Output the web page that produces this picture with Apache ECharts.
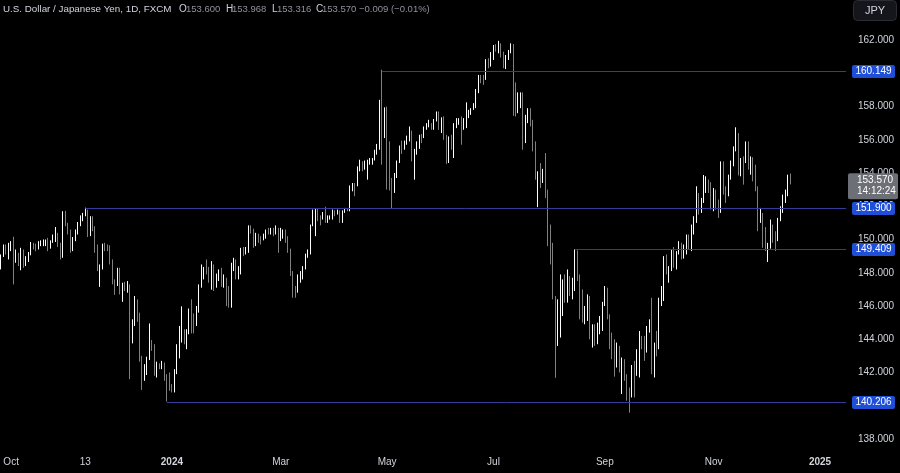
<!DOCTYPE html>
<html><head><meta charset="utf-8">
<script src="https://cdn.jsdelivr.net/npm/echarts/dist/echarts.min.js"></script>
<style>html,body{margin:0;padding:0;background:#000}#c{width:900px;height:473px}</style>
</head><body><div id="c"></div><script>
// ---- data: daily candles [open, close, low, high] ----
const startDate = '2023-09-26';
const slotCount = 342;
const sep23 = [[148.40,149.00,148.20,149.10],[149.00,149.62,148.95,149.70],[149.62,149.31,149.10,149.70],[149.31,149.35,148.80,149.80]];
const oct23 = [[149.35,149.87,149.30,149.90],[149.87,149.02,147.30,150.16],[149.02,149.13,148.60,149.40],[149.13,148.50,148.40,149.20],[148.50,149.32,148.15,149.50],
 [149.32,148.52,148.30,149.40],[148.52,148.72,148.40,149.00],[148.72,149.13,148.65,149.25],[149.13,149.80,149.05,149.85],[149.80,149.56,149.40,149.80],
 [149.56,149.54,149.30,149.75],[149.54,149.80,149.40,149.90],[149.80,149.84,149.60,149.95],[149.84,149.85,149.60,150.00],[149.85,149.86,149.60,150.00],
 [149.86,149.69,149.30,150.10],[149.69,149.90,149.45,149.95],[149.90,150.20,149.80,150.30],[150.20,150.35,149.85,150.75],[150.35,149.65,149.55,150.40],
 [149.65,149.12,148.80,149.80],[149.12,151.68,148.90,151.70]];
const nov23 = [[151.68,150.95,150.80,151.72],[150.95,150.43,150.30,151.00],[150.43,149.38,149.20,150.60],[149.38,150.06,149.30,150.15],[150.06,150.40,149.90,150.60],
 [150.40,150.97,150.30,151.05],[150.97,151.36,150.80,151.45],[151.36,151.51,151.10,151.60],[151.51,151.71,151.40,151.91],[151.71,150.37,150.15,151.80],
 [150.37,151.33,150.20,151.40],[151.33,150.71,150.50,151.40],[150.71,149.62,149.20,150.80],[149.62,148.35,148.10,149.70],[148.35,148.38,147.15,148.50],
 [148.38,149.55,148.20,149.75],[149.55,149.53,149.30,149.80],[149.53,149.44,149.30,149.70],[149.44,148.70,148.50,149.65],[148.70,147.45,147.30,148.80],
 [147.45,147.24,146.67,147.60],[147.24,148.19,147.20,148.30]];
const dec23 = [[148.19,146.80,146.70,148.30],[146.80,147.21,146.25,147.40],[147.21,147.14,146.90,147.45],[147.14,147.27,146.80,147.50],[147.27,144.11,141.60,147.30],
 [144.11,144.95,143.75,145.20],[144.95,146.19,144.80,146.60],[146.19,145.45,145.05,146.40],[145.45,142.88,142.65,145.60],[142.88,141.90,140.95,143.00],
 [141.90,142.17,141.50,142.50],[142.17,142.85,141.85,142.95],[142.85,143.80,142.75,144.95],[143.80,143.55,143.30,143.95],[143.55,142.13,141.80,143.70],
 [142.13,142.40,141.70,142.65],[142.40,142.37,142.20,142.55],[142.37,142.42,142.20,142.70],[142.42,141.80,141.50,142.60],[141.80,141.40,140.25,141.90],
 [141.40,141.03,140.90,142.00]];
const jan24 = [[141.03,141.00,140.80,141.30],[141.00,141.98,140.80,142.20],[141.98,143.29,141.90,143.70],[143.29,144.62,142.85,144.80],[144.62,144.63,143.80,145.98],
 [144.63,144.24,143.70,144.60],[144.24,144.47,143.40,144.60],[144.47,145.74,144.30,145.85],[145.74,145.29,144.35,146.40],[145.29,144.90,144.35,145.55],
 [144.90,145.75,144.80,146.00],[145.75,147.19,145.60,147.30],[147.19,148.14,147.10,148.50],[148.14,148.15,147.60,148.35],[148.15,148.13,147.90,148.80],
 [148.13,148.11,147.40,148.35],[148.11,148.38,146.98,148.70],[148.38,147.52,146.90,148.50],[147.52,147.64,147.10,147.95],[147.64,148.13,147.50,148.20],
 [148.13,147.51,147.15,148.30],[147.51,147.57,147.10,147.90],[147.57,146.92,146.00,147.70]];
const feb24 = [[146.92,146.43,145.90,147.20],[146.43,148.38,145.90,148.60],[148.38,148.69,148.10,148.90],[148.69,147.94,147.60,148.80],[147.94,148.04,147.60,148.40],
 [148.04,149.31,147.90,149.50],[149.31,149.28,149.00,149.55],[149.28,149.35,149.10,149.55],[149.35,150.59,149.20,150.85],[150.59,150.57,150.35,150.85],
 [150.57,149.94,149.50,150.65],[149.94,150.21,149.60,150.40],[150.21,150.09,149.80,150.35],[150.09,150.02,149.70,150.20],[150.02,150.30,149.95,150.35],
 [150.30,150.51,150.05,150.60],[150.51,150.50,150.30,150.70],[150.50,150.68,150.30,150.70],[150.68,150.49,150.20,150.70],[150.49,150.66,150.30,150.85],
 [150.66,149.98,149.20,150.70]];
const mar24 = [[149.98,150.11,149.90,150.70],[150.11,150.52,150.05,150.60],[150.52,150.04,149.80,150.60],[150.04,149.40,149.20,150.20],[149.40,148.05,147.80,149.45],
 [148.05,147.06,146.50,148.10],[147.06,146.94,146.50,147.20],[146.94,147.69,146.80,147.90],[147.69,147.76,147.40,148.10],[147.76,148.33,147.60,148.40],
 [148.33,149.04,148.20,149.15],[149.04,149.15,148.90,149.40],[149.15,150.87,149.10,150.90],[150.87,151.24,150.80,151.80],[151.24,151.62,150.20,151.85],
 [151.62,151.43,151.10,151.85],[151.43,151.28,150.85,151.45],[151.28,151.55,151.20,151.65],[151.55,151.34,151.00,151.97],[151.34,151.35,151.00,151.45],
 [151.35,151.35,151.20,151.45]];
const apr24 = [[151.35,151.66,151.20,151.80],[151.66,151.56,151.40,151.75],[151.56,151.68,151.50,151.80],[151.68,151.36,151.00,151.75],[151.36,151.62,151.00,151.75],
 [151.62,151.86,151.60,151.90],[151.86,151.78,151.70,151.90],[151.78,153.17,151.70,153.25],[153.17,153.30,152.90,153.40],[153.30,153.26,152.60,153.40],
 [153.26,154.22,153.20,154.40],[154.22,154.64,154.10,154.80],[154.64,154.37,154.10,154.70],[154.37,154.62,154.20,154.75],[154.62,154.63,153.60,154.80],
 [154.63,154.80,154.50,154.90],[154.80,154.82,154.50,154.90],[154.82,155.30,154.75,155.40],[155.30,155.60,155.10,155.75],[155.60,158.31,155.40,158.40],
 [158.31,156.38,154.50,160.21],[156.38,157.80,156.10,157.95]];
const may24 = [[157.80,155.00,153.00,157.99],[155.00,153.00,152.95,155.90],[153.00,152.98,151.86,153.70],[152.98,153.90,152.80,154.00],[153.90,154.65,153.70,154.75],
 [154.65,155.60,154.60,155.65],[155.60,155.47,155.15,155.95],[155.47,155.78,155.40,155.95],[155.78,156.22,155.70,156.25],[156.22,156.45,155.90,156.80],
 [156.45,154.90,154.70,156.55],[154.90,155.37,153.60,155.45],[155.37,155.68,155.10,155.90],[155.68,156.24,155.45,156.30],[156.24,156.17,155.80,156.35],
 [156.17,156.77,156.10,156.80],[156.77,156.95,156.60,157.00],[156.95,156.99,156.75,157.20],[156.99,156.85,156.60,157.00],[156.85,157.17,156.60,157.25],
 [157.17,157.63,157.10,157.70],[157.63,156.84,156.60,157.70],[156.84,157.30,156.40,157.35]];
const jun24 = [[157.30,156.10,156.00,157.40],[156.10,154.82,154.55,156.30],[154.82,156.09,154.60,156.20],[156.09,155.62,155.40,156.30],[155.62,156.75,154.90,157.00],
 [156.75,157.05,156.70,157.30],[157.05,157.13,156.90,157.30],[157.13,156.67,155.70,157.40],[156.67,157.07,156.60,157.30],[157.07,157.40,156.70,158.25],
 [157.40,157.73,157.30,157.80],[157.73,157.86,157.50,157.90],[157.86,158.09,157.80,158.20],[158.09,158.94,157.90,159.05],[158.94,159.78,158.80,159.90],
 [159.78,159.71,159.40,159.90],[159.71,159.70,159.30,159.90],[159.70,160.80,159.60,160.85],[160.80,160.76,160.30,160.90],[160.76,160.88,160.40,161.27]];
const jul24 = [[160.88,161.46,160.80,161.70],[161.46,161.45,161.30,161.75],[161.45,161.72,161.20,161.95],[161.72,161.21,160.95,161.80],[161.21,160.75,160.30,161.30],
 [160.75,160.82,160.25,161.10],[160.82,161.32,160.80,161.40],[161.32,161.60,161.20,161.80],[161.60,158.91,157.44,161.76],[158.91,157.87,157.40,159.45],
 [157.87,158.05,157.60,158.85],[158.05,158.35,157.90,158.85],[158.35,156.20,155.40,158.85],[156.20,157.36,155.80,157.50],[157.36,157.48,157.00,157.90],
 [157.48,156.95,156.80,157.90],[156.95,155.58,155.30,157.20],[155.58,153.88,153.60,155.90],[153.88,153.92,151.95,154.10],[153.92,153.75,153.10,154.60],
 [153.75,153.96,153.40,154.25],[153.96,152.73,152.50,155.20],[152.73,149.98,149.60,153.00]];
const aug24 = [[149.98,149.37,148.50,150.90],[149.37,146.52,146.40,149.80],[146.52,144.20,141.68,146.60],[144.20,144.30,143.60,146.40],[144.30,146.80,144.10,147.90],
 [146.80,147.25,145.40,147.60],[147.25,146.60,146.20,147.90],[146.60,147.23,146.20,148.20],[147.23,146.85,146.60,147.80],[146.85,147.35,146.40,147.70],
 [147.35,149.30,146.90,149.40],[149.30,147.60,147.50,149.35],[147.60,146.55,145.20,147.90],[146.55,145.25,145.00,147.00],[145.25,145.28,144.90,146.00],
 [145.28,146.25,145.10,146.70],[146.25,144.35,144.00,146.60],[144.35,144.57,143.50,144.90],[144.57,143.95,143.60,144.90],[143.95,144.61,143.70,145.00],
 [144.61,144.95,144.30,145.40],[144.95,146.17,144.50,146.25]];
const sep24 = [[146.17,146.94,146.00,147.20],[146.94,145.42,145.20,147.10],[145.42,143.73,143.40,145.50],[143.73,143.43,142.80,144.40],[143.43,142.30,141.75,144.00],
 [142.30,143.16,142.30,143.80],[143.16,142.40,142.00,143.60],[142.40,142.45,140.71,142.90],[142.45,141.84,141.50,142.80],[141.84,140.85,140.30,141.90],
 [140.85,140.64,139.58,141.10],[140.64,142.33,140.50,142.45],[142.33,142.28,140.50,142.70],[142.28,142.62,141.80,143.40],[142.62,143.86,141.70,144.50],
 [143.86,143.61,143.40,144.20],[143.61,143.22,142.70,144.20],[143.22,144.78,143.20,144.80],[144.78,144.81,144.40,145.20],[144.81,142.20,141.90,146.49],
 [142.20,143.62,141.70,143.80]];
const oct24 = [[143.62,143.55,142.97,144.50],[143.55,146.45,143.40,146.50],[146.45,146.97,146.00,147.20],[146.97,148.70,146.30,149.00],[148.70,148.18,147.90,149.10],
 [148.18,148.21,147.40,148.40],[148.21,149.30,148.10,149.40],[149.30,148.57,148.30,149.55],[148.57,149.14,148.20,149.30],[149.14,149.76,149.10,149.90],
 [149.76,149.20,148.80,149.80],[149.20,149.63,148.85,149.70],[149.63,150.08,149.10,150.30],[150.08,149.52,149.40,150.30],[149.52,150.87,149.30,150.90],
 [150.87,151.12,150.30,151.40],[151.12,152.74,151.00,153.20],[152.74,151.83,151.50,152.80],[151.83,152.32,151.60,152.50],[152.32,153.31,152.20,153.88],
 [153.31,153.40,152.80,153.80],[153.40,153.38,152.80,153.60],[153.38,152.05,151.80,153.45]];
const nov24 = [[152.05,152.99,151.70,153.10],[152.99,152.23,151.80,153.00],[152.23,151.62,151.30,152.40],[151.62,154.63,151.60,154.70],[154.63,152.97,152.70,154.70],
 [152.97,152.63,152.20,153.20],[152.63,153.72,152.60,153.90],[153.72,154.62,153.60,154.75],[154.62,155.45,154.40,155.60],[155.45,156.28,155.30,156.75],
 [156.28,154.29,153.85,156.40],[154.29,154.66,153.80,154.90],[154.66,154.63,153.30,155.00],[154.63,155.44,154.60,155.90],[155.44,154.52,154.20,155.90],
 [154.52,154.76,153.90,155.00],[154.76,154.23,153.50,154.95],[154.23,153.07,152.90,154.50],[153.07,151.08,150.50,153.20],[151.08,151.53,151.00,151.90],
 [151.53,149.77,149.50,151.60]];
const dec24 = [[149.77,149.58,149.30,150.75],[149.58,149.60,148.65,149.80],[149.60,150.59,149.45,151.20],[150.59,150.06,149.80,150.90],[150.06,149.98,149.30,150.50],
 [149.98,151.21,149.90,151.30],[151.21,151.96,151.10,152.00],[151.96,152.44,151.60,152.70],[152.44,152.65,152.20,153.00],[152.65,153.65,152.60,153.90],
 [153.600,153.570,153.316,153.968]];

// horizontal levels (start date, price)
const levelStarts = ['2024-04-29','2023-11-13','2024-08-15','2023-12-28'];
const levelValues = [160.149, 151.900, 149.409, 140.206];

// time axis tick labels
const xTickDates  = ['2023-10-02','2023-11-13','2024-01-01','2024-03-01','2024-05-01','2024-07-01','2024-09-02','2024-11-01','2025-01-01'];
const xTickTexts  = ['Oct','13','2024','Mar','May','Jul','Sep','Nov','2025'];

// header
const symbolTitle = 'U.S. Dollar / Japanese Yen, 1D, FXCM';
const ohlcLetters = ['O','H','L','C'];
const ohlcValues  = ['153.600','153.968','153.316','153.570'];
const changeText  = '\u22120.009 (\u22120.01%)';
const countdown   = '14:12:24';

// ---- build ----
const candles = [].concat(sep23,oct23,nov23,dec23,jan24,feb24,mar24,apr24,may24,jun24,jul24,aug24,sep24,oct24,nov24,dec24);
function weekdays(start, n){
  const out=[]; let t=Date.parse(start+'T00:00:00Z');
  while(out.length<n){ const d=new Date(t); const wd=d.getUTCDay(); if(wd!==0&&wd!==6) out.push(d.toISOString().slice(0,10)); t+=86400000; }
  return out;
}
const cats = weekdays(startDate, slotCount);
const tickMap = {}; xTickDates.forEach((d,i)=>tickMap[d]=xTickTexts[i]);

const LINE_COLOR = '#343b9a';
const chart = echarts.init(document.getElementById('c'), null, {renderer:'canvas'});
const FONT = 'Liberation Sans, Arial, sans-serif';
const option = {
  backgroundColor:'#000000',
  animation:false,
  textStyle:{fontFamily:FONT},
  grid:{left:0,right:54,top:40,bottom:34,containLabel:false},
  xAxis:{type:'category',data:cats,boundaryGap:true,
    axisLine:{show:false},axisTick:{show:false},splitLine:{show:false},
    axisLabel:{interval:(i,v)=>Object.prototype.hasOwnProperty.call(tickMap,v),
      formatter:v=>{const t=tickMap[v]||''; return /^\d{4}$/.test(t)?'{b|'+t+'}':t;},
      color:'#d1d4dc',fontSize:10,fontFamily:FONT,margin:18,hideOverlap:false,
      rich:{b:{fontWeight:'bold',color:'#d1d4dc',fontSize:10,fontFamily:FONT}}}},
  yAxis:{type:'value',position:'right',min:138,max:162,interval:2,scale:true,
    axisLine:{show:false},axisTick:{show:false},splitLine:{show:false},
    axisLabel:{color:'#d1d4dc',fontSize:10,fontFamily:FONT,margin:12,formatter:v=>v.toFixed(3)}},
  series:[{
    type:'candlestick',data:candles,barWidth:1,
    itemStyle:{color:'#ffffff',color0:'#808080',borderColor:'#ffffff',borderColor0:'#808080',borderWidth:1}
  }]
};
chart.setOption(option);

// overlays positioned through the chart's own scales
const g = [];
const gridRight = chart.convertToPixel({xAxisIndex:0}, cats[cats.length-1]) + 1.3;
levelValues.forEach((v,i)=>{
  const y = Math.round(chart.convertToPixel({yAxisIndex:0}, v)) + 0.5;
  const x0 = chart.convertToPixel({xAxisIndex:0}, levelStarts[i]);
  g.push({type:'line',shape:{x1:x0,y1:y,x2:gridRight,y2:y},style:{stroke:LINE_COLOR,lineWidth:1},z:50,silent:true});
  g.push({type:'rect',shape:{x:852,y:y-6.5,width:43,height:13,r:2},style:{fill:'#1f4fd6'},z:100,silent:true});
  g.push({type:'text',x:873.5,y:y,style:{text:v.toFixed(3),fill:'#ffffff',font:'10px '+FONT,align:'center',verticalAlign:'middle'},z:101,silent:true});
});
g.push({type:'text',left:3,top:4,style:{text:symbolTitle,fill:'#d1d4dc',font:'9.8px '+FONT}});
const letterX=[179,226,272,316], valueX=[186,232,277,322];
ohlcLetters.forEach((l,i)=>{
  g.push({type:'text',x:letterX[i],y:4,style:{text:l,fill:'#d1d4dc',font:'10px '+FONT}});
  g.push({type:'text',x:valueX[i],y:4.5,style:{text:ohlcValues[i],fill:'#8f929a',font:'9.5px '+FONT}});
});
g.push({type:'text',x:359,y:4.5,style:{text:changeText,fill:'#8f929a',font:'9.5px '+FONT}});
g.push({type:'rect',shape:{x:853.5,y:0.5,width:43,height:20,r:4},style:{fill:'#14161b',stroke:'#2a2d35',lineWidth:1},z:100});
g.push({type:'text',x:875,y:11,style:{text:'JPY',fill:'#d1d4dc',font:'11px '+FONT,align:'center',verticalAlign:'middle'},z:101});
const lastClose = candles[candles.length-1][1];
const py = chart.convertToPixel({yAxisIndex:0}, lastClose);
g.push({type:'rect',shape:{x:848,y:py-7,width:50,height:26,r:2},style:{fill:'#6d6f76'},z:100});
g.push({type:'text',x:857,y:py,style:{text:lastClose.toFixed(3),fill:'#ffffff',font:'10px '+FONT,verticalAlign:'middle'},z:101});
g.push({type:'text',x:857,y:py+11,style:{text:countdown,fill:'#ffffff',font:'10px '+FONT,verticalAlign:'middle'},z:101});
chart.setOption({graphic:g});
</script></body></html>
